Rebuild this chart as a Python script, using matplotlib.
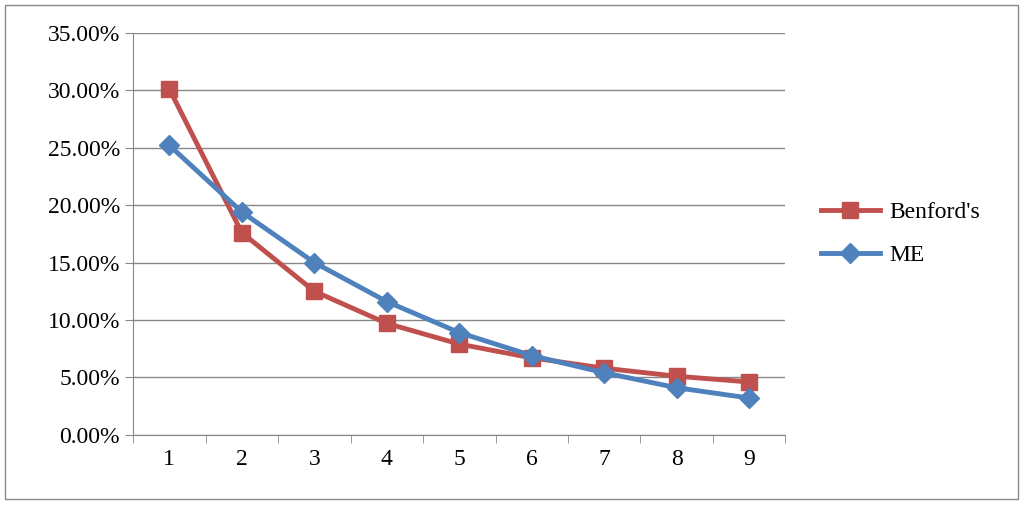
import matplotlib
matplotlib.use("Agg")
import matplotlib.pyplot as plt
from matplotlib.patches import Rectangle
import numpy as np

digits = [1, 2, 3, 4, 5, 6, 7, 8, 9]
benford = [30.1, 17.6, 12.5, 9.7, 7.9, 6.7, 5.8, 5.1, 4.6]
me = [25.2, 19.4, 15.0, 11.6, 8.9, 6.9, 5.4, 4.1, 3.2]

plt.rcParams['font.family'] = ['Liberation Serif', 'DejaVu Serif']
fig = plt.figure(figsize=(10.24, 5.05), dpi=100)
fig.patches.append(Rectangle((0.005, 0.012), 0.989, 0.978, transform=fig.transFigure,
                             fill=False, edgecolor='#888888', lw=1))
ax = fig.add_axes([0.130, 0.139, 0.637, 0.796])
ax.plot(digits, benford, color='#C0504D', lw=3.5, marker='s', ms=12, label="Benford's")
ax.plot(digits, me, color='#4F81BD', lw=3.5, marker='D', ms=10, label='ME')
ax.set_xlim(0.5, 9.5)
ax.set_ylim(0, 35)
ax.set_yticks(np.arange(0, 36, 5))
ax.set_yticklabels([f"{v:.2f}%" for v in np.arange(0, 36, 5)], fontsize=17)
ax.set_xticks(digits)
ax.set_xticklabels([str(d) for d in digits], fontsize=17)
ax.set_xticks(np.arange(0.5, 9.6, 1), minor=True)
ax.tick_params(axis='x', which='major', length=0, pad=10)
ax.tick_params(axis='x', which='minor', length=6, color='#888888')
ax.tick_params(axis='y', length=6, color='#888888', direction='out')
ax.grid(axis='y', color='#888888', lw=1)
ax.set_axisbelow(True)
for s in ['top', 'right']:
    ax.spines[s].set_visible(False)
for s in ['left', 'bottom']:
    ax.spines[s].set_color('#888888')
ax.legend(loc='center left', bbox_to_anchor=(1.04, 0.5), frameon=False, fontsize=17,
          handlelength=2.5, handletextpad=0.4, labelspacing=0.9, borderaxespad=0)
fig.savefig('out.png', dpi=100)
